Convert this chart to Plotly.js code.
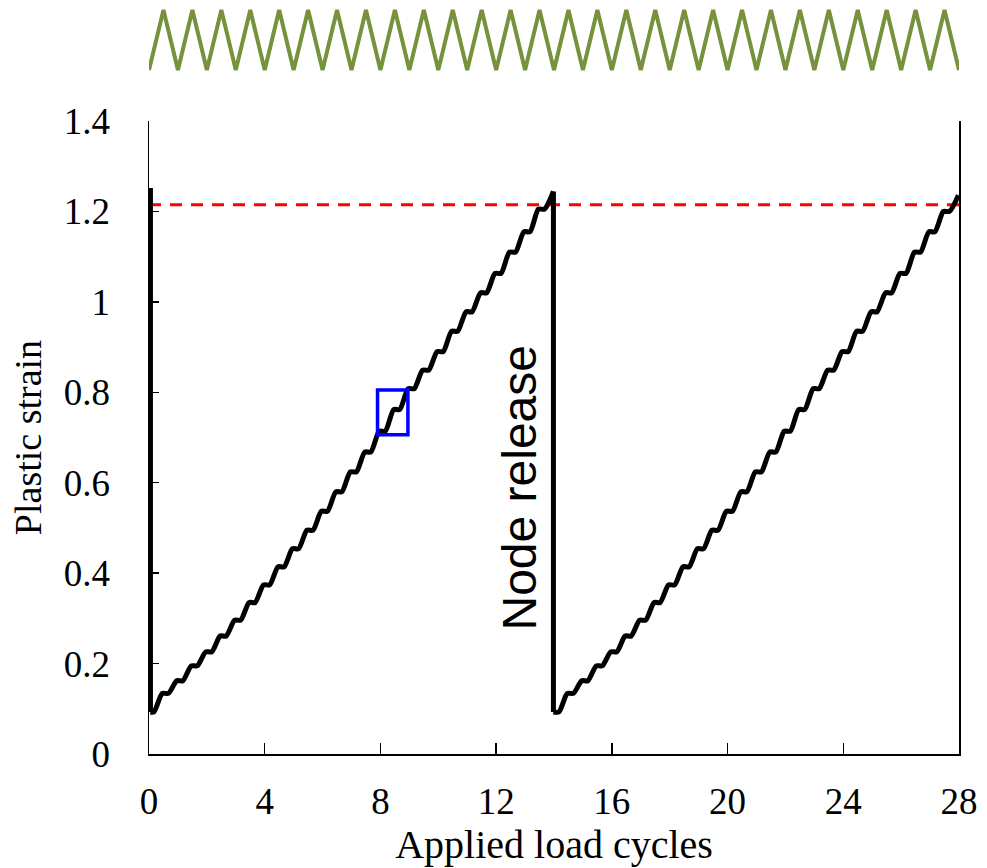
<!DOCTYPE html>
<html>
<head>
<meta charset="utf-8">
<script src="https://cdn.plot.ly/plotly-3.0.1.min.js"></script>
<style>html,body{margin:0;padding:0;background:#fff;}#chart{width:987px;height:868px;}</style>
</head>
<body>
<div id="chart"></div>
<script>
// Half-cycle positions and plastic strain plateau levels
const halfCycles1 = [0,0.5,1,1.5,2,2.5,3,3.5,4,4.5,5,5.5,6,6.5,7,7.5,8,8.5,9,9.5,10,10.5,11,11.5,12,12.5,13,13.5,14];
const strain1 = [0.093,0.134,0.162,0.195,0.226,0.261,0.296,0.335,0.374,0.414,0.454,0.495,0.537,0.580,0.624,0.668,0.714,0.762,0.808,0.849,0.890,0.935,0.978,1.020,1.063,1.110,1.155,1.205,1.244];
const halfCycles2 = [14,14.5,15,15.5,16,16.5,17,17.5,18,18.5,19,19.5,20,20.5,21,21.5,22,22.5,23,23.5,24,24.5,25,25.5,26,26.5,27,27.5,28];
const strain2 = [0.093,0.134,0.162,0.195,0.226,0.261,0.296,0.335,0.374,0.414,0.454,0.495,0.537,0.580,0.624,0.668,0.714,0.762,0.808,0.849,0.890,0.935,0.978,1.020,1.063,1.110,1.155,1.200,1.236];
// Node release (vertical drops)
const releaseX = [0.05, 13.98];
const releaseTop = [1.252, 1.244];
const releaseBottom = [0.093, 0.093];
// Red dashed reference level
const limitX = [0, 28];
const limitStrain = [1.215, 1.215];
// Blue highlight box
const boxX = [7.9, 8.95];
const boxY = [0.706, 0.805];
// Load waveform (top)
const loadX = [0,0.5,1,1.5,2,2.5,3,3.5,4,4.5,5,5.5,6,6.5,7,7.5,8,8.5,9,9.5,10,10.5,11,11.5,12,12.5,13,13.5,14,14.5,15,15.5,16,16.5,17,17.5,18,18.5,19,19.5,20,20.5,21,21.5,22,22.5,23,23.5,24,24.5,25,25.5,26,26.5,27,27.5,28];
const loadY = [0,1,0,1,0,1,0,1,0,1,0,1,0,1,0,1,0,1,0,1,0,1,0,1,0,1,0,1,0,1,0,1,0,1,0,1,0,1,0,1,0,1,0,1,0,1,0,1,0,1,0,1,0,1,0,1,0];
// Axis ticks
const xTicks = [0,4,8,12,16,20,24,28];
const yTicks = [0,0.2,0.4,0.6,0.8,1,1.2,1.4];

// Build stepped curve: each plateau held briefly, then rising to the next
function stepped(xs, ys, startX) {
  const px = [], py = [];
  for (let i = 0; i < xs.length; i++) {
    if (i === xs.length - 1) { px.push(xs[i] - 0.02); py.push(ys[i]); break; }
    px.push(i === 0 ? startX : xs[i] - 0.04); py.push(ys[i]);
    px.push(xs[i] + 0.17); py.push(ys[i]);
  }
  return {x: px, y: py};
}
const s1 = stepped(halfCycles1, strain1, releaseX[0]);
const s2 = stepped(halfCycles2, strain2, releaseX[1]);

const curveLine = {color: '#000000', width: 5, shape: 'spline', smoothing: 0.7};
const traces = [
  {x: limitX, y: limitStrain, mode: 'lines', line: {color: '#ff0000', width: 3, dash: '12px,9px'}, hoverinfo: 'skip'},
  {x: s1.x, y: s1.y, mode: 'lines', line: curveLine},
  {x: s2.x, y: s2.y, mode: 'lines', line: curveLine},
  {x: [releaseX[0], releaseX[0]], y: [releaseTop[0], releaseBottom[0]], mode: 'lines', line: {color: '#000', width: 5}},
  {x: [releaseX[1], releaseX[1]], y: [releaseTop[1], releaseBottom[1]], mode: 'lines', line: {color: '#000', width: 5}},
  {x: loadX, y: loadY, yaxis: 'y2', mode: 'lines', line: {color: '#76923c', width: 4}}
];

const serif = 'Liberation Serif, Times New Roman, serif';
const layout = {
  width: 987, height: 868,
  margin: {l: 149, r: 28, t: 4, b: 114},
  paper_bgcolor: '#fff', plot_bgcolor: '#fff',
  showlegend: false,
  font: {family: serif, size: 37, color: '#000'},
  xaxis: {
    range: [0, 28], tickvals: xTicks, ticks: 'inside', ticklen: 11, tickwidth: 1.5, tickcolor: '#000',
    showline: true, linecolor: '#000', linewidth: 1.5, showgrid: false, zeroline: false,
    ticklabelstandoff: 14,
    tickfont: {family: serif, size: 37, color: '#000'},
    title: {text: 'Applied load cycles', font: {family: serif, size: 40, color: '#000'}, standoff: 2},
    anchor: 'y'
  },
  yaxis: {
    range: [0, 1.4], domain: [0, 0.844], tickvals: yTicks, ticks: 'inside', ticklen: 10, tickwidth: 1.5, tickcolor: '#000',
    showline: true, linecolor: '#000', linewidth: 1.5, mirror: true, showgrid: false, zeroline: false,
    ticklabelstandoff: 30,
    tickfont: {family: serif, size: 37, color: '#000'},
    title: {text: 'Plastic strain', font: {family: serif, size: 38, color: '#000'}, standoff: 10}
  },
  yaxis2: {
    range: [-0.1, 1.1], domain: [0.904, 1], showticklabels: false, showline: false, showgrid: false,
    zeroline: false, ticks: '', anchor: 'x'
  },
  shapes: [
    {type: 'rect', xref: 'x', yref: 'y', x0: boxX[0], x1: boxX[1], y0: boxY[0], y1: boxY[1],
     line: {color: '#0000ff', width: 3.5}, fillcolor: 'rgba(0,0,0,0)'}
  ],
  annotations: [
    {text: 'Node release', xref: 'x', yref: 'y', x: 12.8, y: 0.59, textangle: -90, showarrow: false,
     font: {family: 'Liberation Sans, Arial, sans-serif', size: 48, color: '#000'}}
  ]
};
Plotly.newPlot('chart', traces, layout, {displayModeBar: false, staticPlot: true});
</script>
</body>
</html>
